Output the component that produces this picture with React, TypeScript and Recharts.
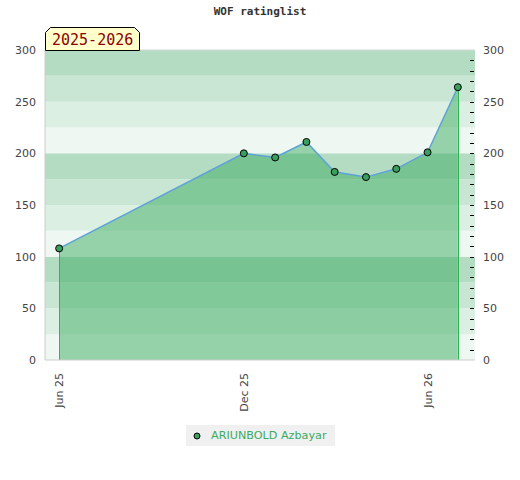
import {
  Area,
  ComposedChart,
  Line,
  ReferenceArea,
  ReferenceLine,
  XAxis,
  YAxis,
} from "recharts";

const title = "WOF ratinglist";
const seasonLabel = "2025-2026";
const playerName = "ARIUNBOLD Azbayar";

const listDates = [
  "2025-06-01",
  "2025-12-01",
  "2026-01-01",
  "2026-02-01",
  "2026-03-01",
  "2026-04-01",
  "2026-05-01",
  "2026-06-01",
  "2026-07-01",
];
const ratings = [108, 200, 196, 211, 182, 177, 185, 201, 264];

const tickDates = ["2025-06-01", "2025-12-01", "2026-06-01"];
const tickLabels = ["Jun 25", "Dec 25", "Jun 26"];
const axisStart = "2025-05-18";
const axisEnd = "2026-07-18";

const majorTicks = [0, 50, 100, 150, 200, 250, 300];
const minorTicks = [
  0, 10, 20, 30, 40, 50, 60, 70, 80, 90, 100, 110, 120, 130, 140, 150, 160,
  170, 180, 190, 200, 210, 220, 230, 240, 250, 260, 270, 280, 290, 300,
];
const bandEdges = [0, 25, 50, 75, 100, 125, 150, 175, 200, 225, 250, 275, 300];
// lightest at the bottom of each 100 block, darkest at the top
const bandColors = ["#eef7f1", "#dcefe3", "#c8e6d3", "#b3dcc3"];

const GREEN = "#3cab62";

const chartData = listDates.map((d, i) => ({
  t: Date.parse(d),
  rating: ratings[i],
}));

const XTick = (props: any) => {
  const { x, y, payload } = props;
  const idx = tickDates.findIndex((d) => Date.parse(d) === payload.value);
  return (
    <text
      x={0}
      y={0}
      transform={`translate(${x + 4},${y + 5}) rotate(-90)`}
      textAnchor="end"
      fill="#444"
      fontSize={11}
      fontFamily="DejaVu Sans"
    >
      {tickLabels[idx]}
    </text>
  );
};

const RightTick = (props: any) => {
  const { x, y, payload } = props;
  const showLabel = payload.value % 50 === 0;
  const showMark = payload.value > 0 && payload.value < 300;
  return (
    <g>
      {showMark && (
        <line
          x1={x - 5}
          x2={x - 1}
          y1={Math.round(y) + 0.5}
          y2={Math.round(y) + 0.5}
          stroke="#000"
          strokeWidth={1}
        />
      )}
      {showLabel && (
        <text
          x={x + 8}
          y={y + 4}
          textAnchor="start"
          fill="#444"
          fontSize={11}
          fontFamily="DejaVu Sans"
        >
          {payload.value}
        </text>
      )}
    </g>
  );
};

// vertical drop line, snapped to the pixel grid
const dropLine = (color: string) => (p: any) => {
  const x = Math.round(p.x1) + 0.5;
  return <line x1={x} x2={x} y1={p.y1} y2={p.y2} stroke={color} strokeWidth={1} />;
};

export default function App() {
  const first = chartData[0];
  const last = chartData[chartData.length - 1];
  return (
    <div
      style={{
        position: "absolute",
        left: 0,
        top: 0,
        width: 520,
        height: 480,
        background: "#fff",
        fontFamily: "DejaVu Sans",
      }}
    >
      <div
        style={{
          position: "absolute",
          left: 0,
          top: 5,
          width: 520,
          textAlign: "center",
          fontFamily: "DejaVu Sans Mono",
          fontWeight: "bold",
          fontSize: 11,
          color: "#333",
        }}
      >
        {title}
      </div>
      <ComposedChart
        width={520}
        height={480}
        data={chartData}
        margin={{ top: 50, right: 0, bottom: 60, left: 0 }}
      >
        <XAxis
          dataKey="t"
          type="number"
          scale="linear"
          domain={[Date.parse(axisStart), Date.parse(axisEnd)]}
          ticks={tickDates.map((d) => Date.parse(d))}
          interval={0}
          tick={<XTick />}
          tickLine={false}
          axisLine={{ stroke: "#ccc" }}
          height={60}
          allowDataOverflow
        />
        <YAxis
          yAxisId="left"
          domain={[0, 300]}
          ticks={majorTicks}
          interval={0}
          width={45}
          tickLine={false}
          tickSize={0}
          tickMargin={9}
          axisLine={{ stroke: "#ccc" }}
          tick={{ fill: "#444", fontSize: 11, fontFamily: "DejaVu Sans" }}
        />
        <YAxis
          yAxisId="right"
          orientation="right"
          domain={[0, 300]}
          ticks={minorTicks}
          interval={0}
          width={45}
          tickLine={false}
          tickSize={0}
          tickMargin={0}
          axisLine={false}
          tick={<RightTick />}
        />
        {bandEdges.slice(0, -1).map((lo, i) => (
          <ReferenceArea
            key={lo}
            yAxisId="left"
            y1={lo}
            y2={bandEdges[i + 1]}
            fill={bandColors[i % 4]}
            fillOpacity={1}
            stroke="none"
            ifOverflow="visible"
          />
        ))}
        <ReferenceLine yAxisId="left" y={300} stroke="#d8d8d8" />
        <Area
          yAxisId="left"
          dataKey="rating"
          type="linear"
          stroke="#5ea2d8"
          strokeWidth={1.5}
          fill={GREEN}
          fillOpacity={0.5}
          isAnimationActive={false}
          dot={{ r: 3.5, fill: "#3a9e5e", stroke: "#000", strokeWidth: 1, fillOpacity: 1 }}
          activeDot={false}
        />
        <Line
          yAxisId="right"
          dataKey="rating"
          stroke="none"
          dot={false}
          activeDot={false}
          legendType="none"
          isAnimationActive={false}
        />
        <ReferenceLine
          yAxisId="left"
          segment={[
            { x: first.t, y: 0 },
            { x: first.t, y: first.rating },
          ]}
          shape={dropLine("#44a866")}
        />
        <ReferenceLine
          yAxisId="left"
          segment={[
            { x: last.t, y: 0 },
            { x: last.t, y: last.rating },
          ]}
          shape={dropLine("#2db350")}
        />
      </ComposedChart>
      <svg
        style={{ position: "absolute", left: 45, top: 27 }}
        width={97}
        height={25}
      >
        <path
          d="M0.5,23.5 V5.5 L5.5,0.5 H89.5 L94.5,5.5 V23.5 Z"
          fill="#ffffcc"
          stroke="#000"
          strokeWidth={1}
        />
        <text
          x={7}
          y={18}
          fill="#8b0000"
          fontSize={15}
          fontFamily="DejaVu Sans Mono"
        >
          {seasonLabel}
        </text>
      </svg>
      <div
        style={{
          position: "absolute",
          left: 186,
          top: 425,
          width: 149,
          height: 21,
          background: "#f0f0f0",
          display: "flex",
          alignItems: "center",
        }}
      >
        <svg width={22} height={21} style={{ flex: "none" }}>
          <circle cx={11} cy={11} r={3} fill="#3a9e5e" stroke="#000" strokeWidth={1} />
        </svg>
        <span style={{ color: GREEN, fontSize: 11.2, marginLeft: 3, whiteSpace: "nowrap" }}>
          {playerName}
        </span>
      </div>
    </div>
  );
}
